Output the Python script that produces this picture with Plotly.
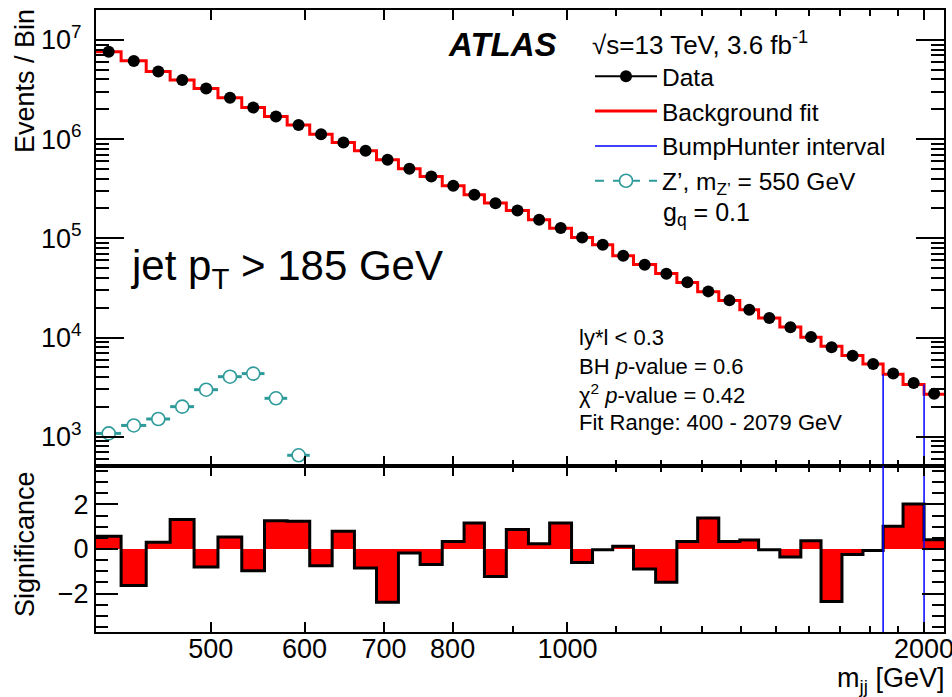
import numpy as np
import plotly.graph_objects as go

# ---------------- data ----------------
bin_edges = [400, 420, 441, 462, 484, 507, 531, 555, 580, 606,
             633, 661, 690, 720, 751, 784, 818, 851, 888, 927,
             966, 1008, 1050, 1092, 1137, 1187, 1237, 1288, 1342, 1398,
             1450, 1511, 1574, 1637, 1705, 1776, 1847, 1920, 2000, 2079]

data_counts = [7.62e6, 6.15e6, 4.80e6, 3.95e6, 3.24e6, 2.62e6, 2.08e6, 1.69e6, 1.39e6, 1.12e6,
               9.24e5, 7.63e5, 6.19e5, 5.02e5, 4.20e5, 3.39e5, 2.75e5, 2.26e5, 1.91e5, 1.54e5,
               1.27e5, 1.02e5, 8.63e4, 6.68e4, 5.42e4, 4.40e4, 3.60e4, 2.92e4, 2.37e4, 1.91e4,
               1.57e4, 1.27e4, 1.01e4, 7.97e3, 6.57e3, 5.42e3, 4.33e3, 3.49e3, 2.71e3]

bkg_fit = [7.618e6, 6.154e6, 4.799e6, 3.947e6, 3.241e6, 2.619e6, 2.081e6, 1.688e6, 1.389e6, 1.121e6,
           9.232e5, 7.637e5, 6.209e5, 5.021e5, 4.205e5, 3.388e5, 2.744e5, 2.266e5, 1.906e5, 1.539e5,
           1.266e5, 1.022e5, 8.630e4, 6.677e4, 5.441e4, 4.431e4, 3.594e4, 2.896e4, 2.365e4, 1.904e4,
           1.570e4, 1.274e4, 1.006e4, 8.180e3, 6.590e3, 5.425e3, 4.263e3, 3.371e3, 2.688e3]

significance = [0.57, -1.64, 0.30, 1.32, -0.81, 0.54, -0.97, 1.27, 1.24, -0.75,
                0.79, -0.85, -2.39, -0.18, -0.70, 0.34, 1.17, -1.23, 0.87, 0.24,
                1.17, -0.60, -0.03, 0.12, -0.90, -1.49, 0.34, 1.39, 0.34, 0.40,
                -0.03, -0.36, 0.37, -2.35, -0.25, -0.07, 1.02, 2.02, 0.42]

zprime_counts = [1080, 1300, 1510, 2010, 2980, 4030, 4330, 2440, 650]

bumphunter_interval = [1847, 2000]

x_tickvals = [500, 600, 700, 800, 1000, 2000]
x_ticktext = ["500", "600", "700", "800", "1000", "2000"]
x_minor = [900, 1100, 1200, 1300, 1400, 1500, 1600, 1700, 1800, 1900]
y_tickvals = [1e3, 1e4, 1e5, 1e6, 1e7]
y_ticktext = ["10<sup>3</sup>", "10<sup>4</sup>", "10<sup>5</sup>", "10<sup>6</sup>", "10<sup>7</sup>"]
y_minor = [m * 10 ** k for k in range(2, 8) for m in range(2, 10)]
sig_tickvals = [-2, 0, 2]
sig_ticktext = ["\u22122", "0", "2"]

# ---------------- derived ----------------
edges = np.array(bin_edges, dtype=float)
centers = 0.5 * (edges[:-1] + edges[1:])
nz = len(zprime_counts)
z_c = centers[:nz]
z_plus = edges[1:nz + 1] - z_c
z_minus = z_c - edges[:nz]
bkg_step = list(bkg_fit) + [bkg_fit[-1]]
sig_step = list(significance) + [significance[-1]]
i_lo = bin_edges.index(bumphunter_interval[0])
i_hi = bin_edges.index(bumphunter_interval[1])

W, H = 952, 697
ML, MR, MT, MB = 96, 8, 10, 65
PW, PH = W - ML - MR, H - MT - MB
split = (632 - 466) / PH
YMIN_LOG, YMAX_LOG = 2.705, 7.302


def px(x):
    return (x - ML) / PW


def py(y):
    return (MT + PH - y) / PH


FONT = "Liberation Sans, Arial, Helvetica, sans-serif"
TEAL = "#2f9a9a"

fig = go.Figure()

# background fit (step)
fig.add_trace(go.Scatter(x=edges, y=bkg_step, mode="lines", line=dict(color="#ff0000", width=3, shape="hv"),
                         name="Background fit", legendrank=2, xaxis="x", yaxis="y"))
# BumpHunter interval in top panel
fig.add_trace(go.Scatter(x=[edges[i_lo], edges[i_lo], None, edges[i_hi], edges[i_hi]],
                         y=[10 ** (YMIN_LOG - 0.2), bkg_fit[i_lo], None, 10 ** (YMIN_LOG - 0.2), bkg_fit[i_hi - 1]],
                         mode="lines", line=dict(color="#0000ff", width=1.5),
                         name="BumpHunter interval", legendrank=3, xaxis="x", yaxis="y"))
# Z' signal
fig.add_trace(go.Scatter(x=z_c, y=zprime_counts, mode="markers",
                         marker=dict(symbol="circle", size=13, color="white", line=dict(color=TEAL, width=1.6)),
                         error_x=dict(type="data", array=z_plus, arrayminus=z_minus, color=TEAL, thickness=3, width=0),
                         showlegend=False, xaxis="x", yaxis="y"))
# Data
fig.add_trace(go.Scatter(x=centers, y=data_counts, mode="markers",
                         marker=dict(symbol="circle", size=12, color="black"),
                         showlegend=False, xaxis="x", yaxis="y"))
# legend-only entries
fig.add_trace(go.Scatter(x=[None], y=[None], mode="lines+markers", name="Data", legendrank=1,
                         line=dict(color="black", width=2), marker=dict(color="black", size=12),
                         xaxis="x", yaxis="y"))
fig.add_trace(go.Scatter(x=[None], y=[None], mode="lines+markers", name="Z\u2019, m<sub>Z\u2019</sub> = 550 GeV",
                         legendrank=4, line=dict(color=TEAL, width=2, dash="dash"),
                         marker=dict(symbol="circle", size=13, color="white", line=dict(color=TEAL, width=1.6)),
                         xaxis="x", yaxis="y"))

# significance panel
fig.add_trace(go.Scatter(x=edges, y=sig_step, mode="lines", line=dict(color="black", width=3, shape="hv"),
                         fill="tozeroy", fillcolor="#ff0000", showlegend=False, xaxis="x2", yaxis="y2"))
fig.add_trace(go.Scatter(x=[edges[i_lo], edges[i_lo], None, edges[i_hi], edges[i_hi]],
                         y=[-10, 10, None, -10, 10], mode="lines", line=dict(color="#0000ff", width=1.5),
                         showlegend=False, xaxis="x2", yaxis="y2"))

xr = [np.log10(edges[0]), np.log10(edges[-1])]
common_x = dict(type="log", range=xr, showline=True, linecolor="black", linewidth=2, mirror="ticks",
                ticks="inside", tickcolor="black", tickwidth=1.5, tickvals=x_tickvals, ticktext=x_ticktext,
                showgrid=False, zeroline=False, automargin=False,
                minor=dict(tickvals=x_minor, ticks="inside", ticklen=6, tickcolor="black", tickwidth=1.5,
                           showgrid=False))

fig.update_layout(
    width=W, height=H, margin=dict(l=ML, r=MR, t=MT, b=MB, autoexpand=False),
    paper_bgcolor="white", plot_bgcolor="white",
    font=dict(family=FONT, color="black", size=25),
    xaxis=dict(common_x, anchor="y", domain=[0, 1], showticklabels=False, ticklen=10, matches="x2"),
    xaxis2=dict(common_x, anchor="y2", domain=[0, 1], showticklabels=True, ticklen=10,
                tickfont=dict(size=27), ticklabeloverflow="allow", ticklabelstandoff=-8),
    yaxis=dict(type="log", range=[YMIN_LOG, YMAX_LOG], domain=[split, 1], anchor="x", automargin=False,
               showline=True, linecolor="black", linewidth=2, mirror="ticks",
               ticks="inside", ticklen=28, tickwidth=1.5, tickcolor="black",
               tickvals=y_tickvals, ticktext=y_ticktext, tickfont=dict(size=27), ticklabelstandoff=7,
               showgrid=False, zeroline=False,
               minor=dict(tickvals=y_minor, ticks="inside", ticklen=13, tickcolor="black", tickwidth=1.5,
                          showgrid=False)),
    yaxis2=dict(range=[-3.72, 3.72], domain=[0, split], anchor="x2", automargin=False,
                showline=True, linecolor="black", linewidth=2, mirror="ticks",
                ticks="inside", ticklen=22, tickwidth=1.5, tickcolor="black",
                tickvals=sig_tickvals, ticktext=sig_ticktext, tickfont=dict(size=27), ticklabelstandoff=0,
                showgrid=False, zeroline=False,
                minor=dict(dtick=0.5, tick0=0, ticks="inside", ticklen=12, tickcolor="black", tickwidth=1.5,
                           showgrid=False)),
    legend=dict(x=px(590), y=py(20), xanchor="left", yanchor="top", bgcolor="rgba(0,0,0,0)",
                font=dict(size=24.5), itemwidth=62, tracegroupgap=0,
                title=dict(text="\u221as=13 TeV, 3.6 fb<sup>-1</sup>", font=dict(size=26))),
    showlegend=True,
)

ann = []
ann.append(dict(text="<b><i>ATLAS</i></b>", x=px(446), y=py(45), xanchor="left", yanchor="middle",
                font=dict(size=33)))
ann.append(dict(text="g<sub>q</sub> = 0.1", x=px(661), y=py(214), xanchor="left", yanchor="middle",
                font=dict(size=25)))
ann.append(dict(text="jet p<sub>T</sub> > 185 GeV", x=px(128), y=py(268), xanchor="left", yanchor="middle",
                font=dict(size=42)))
small = ["ly*l < 0.3", "BH <i>p</i>-value = 0.6", "\u03c7<sup>2</sup> <i>p</i>-value = 0.42",
         "Fit Range: 400 - 2079 GeV"]
for t, yy in zip(small, [337, 366, 394, 422]):
    ann.append(dict(text=t, x=px(577), y=py(yy), xanchor="left", yanchor="middle", font=dict(size=22)))
ann.append(dict(text="Events / Bin", textangle=-90, x=px(25), y=py(7), xanchor="center", yanchor="top",
                font=dict(size=27)))
ann.append(dict(text="Significance", textangle=-90, x=px(25), y=py(544), xanchor="center", yanchor="middle",
                font=dict(size=27)))
ann.append(dict(text="m<sub>jj</sub> [GeV]", x=px(946), y=py(680), xanchor="right", yanchor="middle",
                font=dict(size=27)))
for a in ann:
    a.update(xref="paper", yref="paper", showarrow=False)
fig.update_layout(annotations=ann)

fig.write_html("out.html", config={"displayModeBar": False},
               post_script="document.body.style.margin='0';document.body.style.overflow='hidden';")
